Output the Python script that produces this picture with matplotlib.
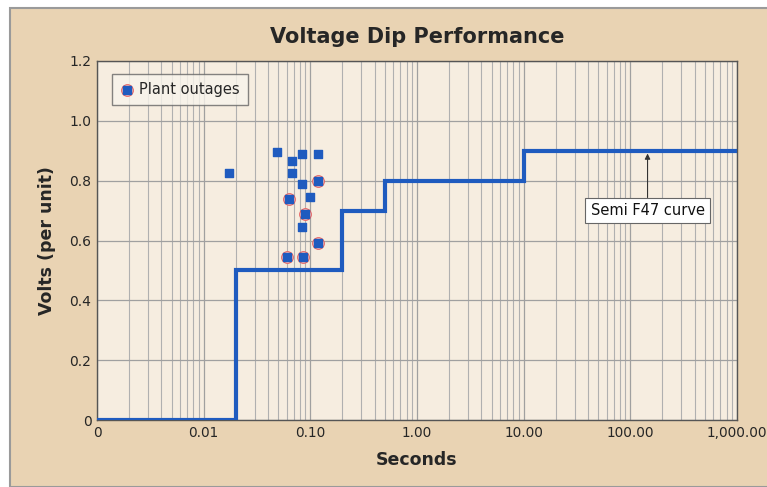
import matplotlib
matplotlib.use('Agg')
import matplotlib.pyplot as plt
from matplotlib.patches import Rectangle
from matplotlib.ticker import FixedLocator, LogLocator, NullFormatter

# SEMI F47 curve (step, seconds vs per-unit volts)
curve_t = [0.001, 0.02, 0.02, 0.2, 0.2, 0.5, 0.5, 10.0, 10.0, 1000.0]
curve_v = [0.0, 0.0, 0.5, 0.5, 0.7, 0.7, 0.8, 0.8, 0.9, 0.9]

# dips (seconds, volts)
dip_t = [0.0174, 0.049, 0.067, 0.084, 0.119, 0.067, 0.084, 0.100, 0.084]
dip_v = [0.826, 0.896, 0.866, 0.890, 0.890, 0.826, 0.789, 0.746, 0.645]

# dips that caused plant outages (circled)
outage_t = [0.119, 0.0635, 0.0897, 0.119, 0.0608, 0.086]
outage_v = [0.800, 0.739, 0.689, 0.592, 0.545, 0.545]

xticks = [0.001, 0.01, 0.1, 1, 10, 100, 1000]
xlabels = ['0', '0.01', '0.10', '1.00', '10.00', '100.00', '1,000.00']
yticks = [0, 0.2, 0.4, 0.6, 0.8, 1.0, 1.2]
ylabels = ['0', '0.2', '0.4', '0.6', '0.8', '1.0', '1.2']

blue = '#1f5bbf'
tan = '#e9d3b3'
txt = '#262626'

plt.rcParams['font.family'] = 'DejaVu Sans'

fig = plt.figure(figsize=(7.67, 4.87), dpi=100, facecolor='white')
bg = Rectangle((10 / 767, 0), 1, 1 - 8 / 487, transform=fig.transFigure,
               facecolor=tan, edgecolor='#9a9a9a', linewidth=1.5, zorder=-10)
fig.patches.append(bg)

ax = fig.add_axes([97 / 767, 1 - 420 / 487, 640 / 767, 359 / 487])
ax.set_zorder(1)
ax.set_facecolor('#f6ede0')
ax.set_xscale('log')
ax.set_xlim(0.001, 1000)
ax.set_ylim(0, 1.2)

ax.xaxis.set_major_locator(FixedLocator(xticks))
ax.set_xticklabels(xlabels, fontsize=9.8, color=txt)
ax.xaxis.set_minor_locator(LogLocator(base=10, subs=range(2, 10), numticks=20))
ax.xaxis.set_minor_formatter(NullFormatter())
ax.set_yticks(yticks)
ax.set_yticklabels(ylabels, fontsize=10, color=txt)
ax.tick_params(which='both', length=0, pad=4)

ax.grid(True, which='major', axis='both', color='#a0a0a0', linewidth=0.9)
ax.grid(True, which='minor', axis='x', color='#b0b0b0', linewidth=0.8)
ax.set_axisbelow(True)
for s in ax.spines.values():
    s.set_color('#555555')
    s.set_linewidth(1.0)

ax.plot(curve_t, curve_v, color=blue, linewidth=3, solid_joinstyle='miter', zorder=3)

ax.scatter(outage_t, outage_v, s=70, facecolor='#f6d6cc', edgecolor='#e86060',
           linewidth=0.8, zorder=4)
ax.scatter(dip_t + outage_t, dip_v + outage_v, marker='s', s=30, color=blue, zorder=5)

# legend handle: blue square over red-ringed circle
h1 = ax.scatter([], [], s=70, facecolor='#f6d6cc', edgecolor='#e86060', linewidth=0.8)
h2 = ax.scatter([], [], marker='s', s=30, color=blue)
leg = ax.legend([(h1, h2)], ['Plant outages'], loc='upper left', fontsize=10.5,
                frameon=True, fancybox=False, edgecolor='#666666', facecolor='#f8f4ec',
                borderpad=0.55, handletextpad=0.3, handlelength=1.0,
                bbox_to_anchor=(0.012, 0.985))
leg.get_frame().set_linewidth(1.0)
for t in leg.get_texts():
    t.set_color(txt)

ax.annotate('Semi F47 curve', xy=(145, 0.9), xytext=(145, 0.70), ha='center', va='center',
            fontsize=10.5, color='#111111',
            bbox=dict(boxstyle='square,pad=0.35', facecolor='white', edgecolor='#666666', linewidth=0.8),
            arrowprops=dict(arrowstyle='-|>', color='#333333', linewidth=0.8,
                            mutation_scale=8, shrinkA=0, shrinkB=2))

ax.set_title('Voltage Dip Performance', fontsize=15, fontweight='bold', color=txt, pad=13)
ax.set_xlabel('Seconds', fontsize=12.5, fontweight='bold', color=txt, labelpad=8)
ax.set_ylabel('Volts (per unit)', fontsize=12.5, fontweight='bold', color=txt, labelpad=10)

fig.savefig('out.png', dpi=100, facecolor=fig.get_facecolor())
